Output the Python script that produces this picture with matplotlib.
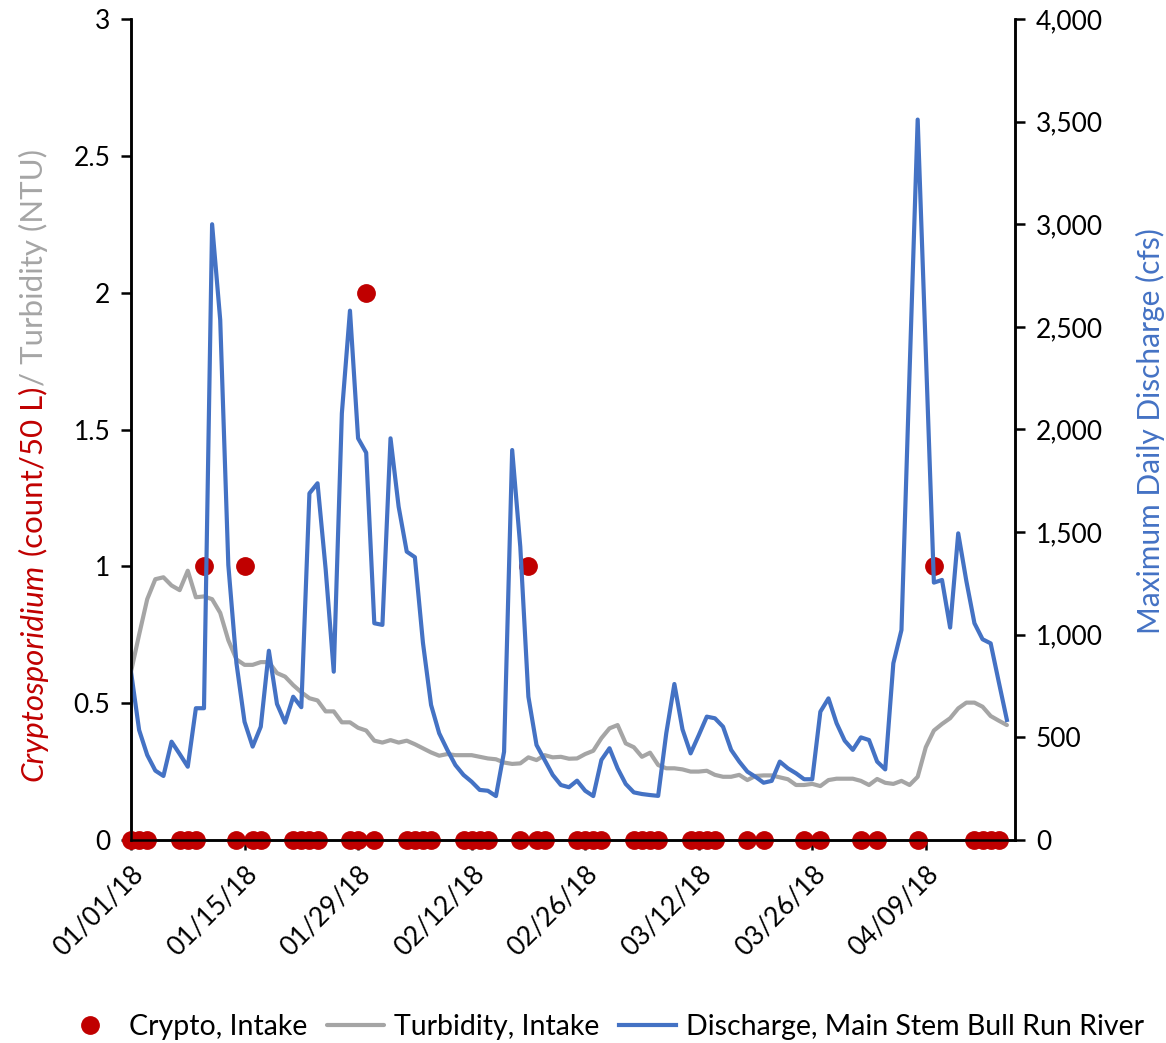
import matplotlib
matplotlib.use("Agg")
import matplotlib.pyplot as plt
import numpy as np
import datetime as dt
import matplotlib.dates as mdates
from matplotlib.ticker import FuncFormatter, FixedLocator

plt.rcParams['font.family'] = ['Lato', 'DejaVu Sans']

start = dt.date(2018, 1, 1)

# Maximum daily discharge (cfs), one value per day starting 01/01/18
discharge = [820, 536, 414, 338, 312, 479, 419, 357, 642, 642,
             3000, 2534, 1340, 862, 576, 455, 552, 922, 663, 572,
             698, 647, 1689, 1738, 1320, 820, 2079, 2579, 1957, 1887,
             1056, 1048, 1957, 1624, 1405, 1378, 960, 658, 520, 439,
             365, 317, 284, 244, 240, 214, 430, 1900, 1429, 698,
             463, 390, 317, 268, 257, 289, 240, 214, 390, 447,
             349, 273, 232, 224, 219, 215, 520, 760, 539, 422,
             510, 601, 593, 552, 439, 382, 333, 308, 279, 288,
             382, 349, 325, 296, 296, 625, 690, 569, 484, 439,
             500, 487, 382, 344, 861, 1023, 2280, 3510, 2380, 1254,
             1267, 1035, 1494, 1262, 1056, 978, 958, 770, 585]

# Turbidity at intake (NTU), one value per day starting 01/01/18
turbidity = [0.615, 0.75, 0.88, 0.953, 0.96, 0.93, 0.913, 0.984, 0.887, 0.89,
             0.88, 0.83, 0.73, 0.66, 0.64, 0.64, 0.65, 0.65, 0.61, 0.597,
             0.566, 0.54, 0.518, 0.51, 0.47, 0.47, 0.43, 0.43, 0.41, 0.40,
             0.363, 0.356, 0.365, 0.356, 0.363, 0.35, 0.335, 0.32, 0.308, 0.314,
             0.31, 0.31, 0.31, 0.304, 0.298, 0.295, 0.283, 0.278, 0.28, 0.302,
             0.292, 0.31, 0.302, 0.304, 0.297, 0.298, 0.314, 0.326, 0.372, 0.408,
             0.42, 0.353, 0.339, 0.304, 0.319, 0.274, 0.262, 0.262, 0.258, 0.25,
             0.25, 0.253, 0.238, 0.231, 0.231, 0.238, 0.219, 0.234, 0.236, 0.236,
             0.229, 0.222, 0.201, 0.201, 0.205, 0.197, 0.219, 0.224, 0.224, 0.224,
             0.216, 0.201, 0.223, 0.209, 0.205, 0.216, 0.201, 0.231, 0.339, 0.40,
             0.424, 0.445, 0.481, 0.502, 0.502, 0.487, 0.453, 0.436, 0.42]

# Crypto samples: day offset from 01/01/18 and count/50 L
crypto_days = [0, 1, 2, 6, 7, 8, 9, 13, 14, 15, 16, 20, 21, 22, 23, 27, 28, 29, 30,
               34, 35, 36, 37, 41, 42, 43, 44, 48, 49, 50, 51, 55, 56, 57, 58,
               62, 63, 64, 65, 69, 70, 71, 72, 76, 78, 83, 85, 90, 92, 97, 99,
               104, 105, 106, 107]
crypto_vals = [0, 0, 0, 0, 0, 0, 1, 0, 1, 0, 0, 0, 0, 0, 0, 0, 0, 2, 0,
               0, 0, 0, 0, 0, 0, 0, 0, 0, 1, 0, 0, 0, 0, 0, 0,
               0, 0, 0, 0, 0, 0, 0, 0, 0, 0, 0, 0, 0, 0, 0, 1,
               0, 0, 0, 0]

tick_labels = ['01/01/18', '01/15/18', '01/29/18', '02/12/18', '02/26/18',
               '03/12/18', '03/26/18', '04/09/18']

days = [start + dt.timedelta(days=i) for i in range(len(discharge))]
cdates = [start + dt.timedelta(days=d) for d in crypto_days]
tick_dates = [dt.datetime.strptime(t, '%m/%d/%y') for t in tick_labels]

RED = '#C00000'
GRAY = '#A5A5A5'
BLUE = '#4472C4'
FS = 19
LFS = 21.5

fig = plt.figure(figsize=(11.66, 10.43), dpi=100)
ax = fig.add_axes([131/1166, 1 - 840/1043, (1015-131)/1166, (840-19)/1043])
ax2 = ax.twinx()

l_turb, = ax.plot(days, turbidity, color=GRAY, lw=3, solid_capstyle='round', zorder=2,
                  label='Turbidity, Intake')
l_cr, = ax.plot(cdates, crypto_vals, 'o', color=RED, ms=12.5, mec=RED, zorder=3,
                label='Crypto, Intake', clip_on=False)
l_dis, = ax2.plot(days, discharge, color=BLUE, lw=3, label='Discharge, Main Stem Bull Run River')

ax.set_ylim(0, 3)
ax2.set_ylim(0, 4000)
ax.set_xlim(mdates.date2num(start), mdates.date2num(start) + 109)

ax.set_yticks([0, 0.5, 1, 1.5, 2, 2.5, 3])
ax.yaxis.set_major_formatter(FuncFormatter(lambda v, p: ('%g' % v)))
ax2.set_yticks(range(0, 4001, 500))
ax2.yaxis.set_major_formatter(FuncFormatter(lambda v, p: '{:,.0f}'.format(v)))

ax.xaxis.set_major_locator(FixedLocator(mdates.date2num(tick_dates)))
ax.set_xticklabels(tick_labels, rotation=45, ha='right', rotation_mode='anchor')

for a in (ax, ax2):
    a.spines['top'].set_visible(False)
    for s in a.spines.values():
        s.set_linewidth(1.8)
        s.set_color('black')
    a.tick_params(labelsize=FS, width=1.8, length=7, colors='black')
ax.tick_params(axis='x', pad=8)
ax.tick_params(axis='y', pad=8)
ax2.tick_params(axis='y', pad=8)

# right axis label
fig.text(1150/1166, 1 - 431/1043, 'Maximum Daily Discharge (cfs)', rotation=90,
         color=BLUE, fontsize=LFS, ha='center', va='center')

# left multi-coloured axis label
fig.canvas.draw()
r = fig.canvas.get_renderer()
pieces = [('Cryptosporidium', RED, 'italic'), (' (count/50 L)', RED, 'normal'),
          ('/ Turbidity (NTU)', GRAY, 'normal')]
tmp = []
total = 0
for s, c, st in pieces:
    t = fig.text(0, 0, s, rotation=90, fontsize=22.5, style=st, color=c, ha='center', va='bottom')
    h = t.get_window_extent(r).height
    tmp.append((t, h))
    total += h
ycur = (1043 - 465) - total / 2
for t, h in tmp:
    t.set_position((33/1166, ycur / 1043))
    ycur += h

fig.legend(handles=[l_cr, l_turb, l_dis], loc='lower center', bbox_to_anchor=(0.517, -0.022),
           ncol=3, frameon=False, fontsize=20.5, handlelength=2.0, columnspacing=0.7,
           handletextpad=0.35)

fig.savefig('out.png', dpi=100)
